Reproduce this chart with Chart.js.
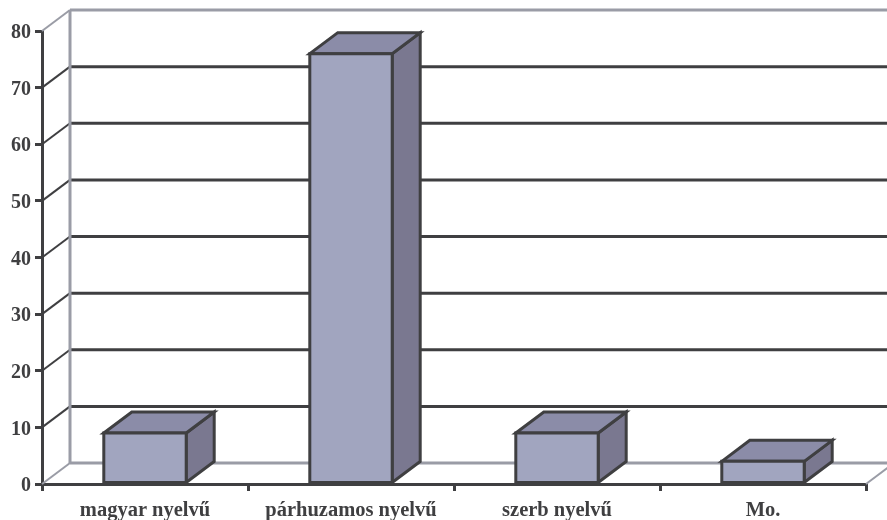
<!DOCTYPE html>
<html>
<head>
  <meta charset="utf-8">
  <title>Nyelv</title>
  <script src="https://cdn.jsdelivr.net/npm/chart.js"></script>
  <style>
    body { margin: 0; background: #fff; }
  </style>
</head>
<body>
  <canvas id="bars" width="887" height="520"></canvas>
  <script>
    const categories = ['magyar nyelvű', 'párhuzamos nyelvű', 'szerb nyelvű', 'Mo.'];
    const values = [9, 76, 9, 4];

    const dark = '#3f3f41';
    const grey = '#9a9ca6';
    const depthX = 28;
    const depthY = 21;

    function poly(ctx, pts, fill, stroke, width) {
      ctx.beginPath();
      pts.forEach((p, i) => i ? ctx.lineTo(p[0], p[1]) : ctx.moveTo(p[0], p[1]));
      ctx.closePath();
      if (fill) { ctx.fillStyle = fill; ctx.fill(); }
      ctx.strokeStyle = stroke;
      ctx.lineWidth = width;
      ctx.lineJoin = 'miter';
      ctx.stroke();
    }

    function line(ctx, x1, y1, x2, y2, color, width) {
      ctx.beginPath();
      ctx.moveTo(x1, y1);
      ctx.lineTo(x2, y2);
      ctx.strokeStyle = color;
      ctx.lineWidth = width;
      ctx.stroke();
    }

    // back wall, floor and the side/top faces of the bars
    const depth = {
      id: 'depth',
      beforeDatasetsDraw(chart) {
        const ctx = chart.ctx;
        const { left, right } = chart.chartArea;
        const y = chart.scales.y;
        ctx.save();
        y.ticks.forEach(t => {
          const py = y.getPixelForValue(t.value);
          const edge = t.value === 0 || t.value === 80;
          const c = edge ? grey : dark;
          line(ctx, left, py, left + depthX, py - depthY, c, 2);
          line(ctx, left + depthX, py - depthY, chart.width, py - depthY, c, 3);
        });
        line(ctx, left + depthX, y.getPixelForValue(80) - depthY, left + depthX, y.getPixelForValue(0) - depthY, grey, 3);
        line(ctx, right, y.getPixelForValue(0), right + depthX, y.getPixelForValue(0) - depthY, grey, 2);

        chart.getDatasetMeta(0).data.forEach(bar => {
          const p = bar.getProps(['x', 'y', 'base', 'width'], true);
          const l = p.x - p.width / 2;
          const r = p.x + p.width / 2;
          const t = p.y;
          const b = p.base;
          poly(ctx, [[r, t], [r + depthX, t - depthY], [r + depthX, b - depthY], [r, b]], '#7a7890', dark, 3);
          poly(ctx, [[l, t], [l + depthX, t - depthY], [r + depthX, t - depthY], [r, t]], '#8b8ca8', dark, 3);
        });
        ctx.restore();
      },
      // outline of the front face, centred on the bar edges
      afterDatasetsDraw(chart) {
        const ctx = chart.ctx;
        ctx.save();
        chart.getDatasetMeta(0).data.forEach(bar => {
          const p = bar.getProps(['x', 'y', 'base', 'width'], true);
          const l = p.x - p.width / 2;
          const r = p.x + p.width / 2;
          poly(ctx, [[l, p.base], [l, p.y], [r, p.y], [r, p.base]], null, dark, 3);
        });
        ctx.restore();
      }
    };

    new Chart(document.getElementById('bars').getContext('2d'), {
      type: 'bar',
      data: {
        labels: categories,
        datasets: [{
          data: values,
          backgroundColor: '#a1a5bf',
          borderWidth: 0,
          barPercentage: 0.4,
          categoryPercentage: 1
        }]
      },
      options: {
        responsive: false,
        animation: false,
        layout: { padding: { top: 31, right: 21, left: 0, bottom: 0 } },
        plugins: { legend: { display: false }, tooltip: { enabled: false } },
        scales: {
          x: {
            afterFit(s) { s.height = 36; },
            grid: { drawOnChartArea: false, color: dark, lineWidth: 3, tickLength: 7 },
            border: { color: dark, width: 3 },
            ticks: {
              color: dark,
              maxRotation: 0,
              padding: 7,
              font: { family: '"Liberation Serif"', size: 20.5, weight: 'bold' }
            }
          },
          y: {
            min: 0,
            max: 80,
            afterFit(s) { s.width = 42; },
            grid: { drawOnChartArea: false, color: dark, lineWidth: 3, tickLength: 7 },
            border: { color: dark, width: 3 },
            ticks: {
              stepSize: 10,
              color: dark,
              padding: 4,
              labelOffset: 2,
              font: { family: '"Liberation Serif"', size: 20, weight: 'bold' }
            }
          }
        }
      },
      plugins: [depth]
    });
  </script>
</body>
</html>
